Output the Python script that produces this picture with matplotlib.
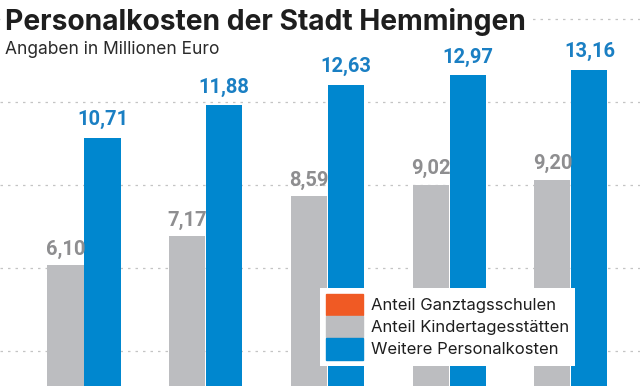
import matplotlib
matplotlib.use("Agg")
import matplotlib.pyplot as plt
from matplotlib.patches import Patch

# values in Mio. Euro, five years (axis cut off at the bottom)
kita = [6.10, 7.17, 8.59, 9.02, 9.20]
weitere = [10.71, 11.88, 12.63, 12.97, 13.16]
legend_labels = ["Anteil Ganztagsschulen", "Anteil Kindertagesstätten", "Weitere Personalkosten"]

c_orange = "#f05a24"
c_gray = "#bcbdc0"
c_blue = "#0087cf"

fig = plt.figure(figsize=(6.4, 3.86), dpi=100)
ax = fig.add_axes([0, 0, 1, 1])

x = list(range(len(kita)))
w = 0.296
bg = ax.bar([i - w / 2 - 0.004 for i in x], kita, width=w, color=c_gray, zorder=2)
bb = ax.bar([i + w / 2 + 0.004 for i in x], weitere, width=w, color=c_blue, zorder=2)

for rect, v in zip(bg, kita):
    ax.annotate(f"{v:.2f}".replace(".", ","), (rect.get_x() + rect.get_width() / 2, v),
                xytext=(0, 4.5), textcoords="offset points", ha="center", va="bottom",
                fontsize=14.5, fontweight="bold", family="Roboto", color="#8e8e90")
for rect, v in zip(bb, weitere):
    ax.annotate(f"{v:.2f}".replace(".", ","), (rect.get_x() + rect.get_width() / 2, v),
                xytext=(0, 6), textcoords="offset points", ha="center", va="bottom",
                fontsize=14.5, fontweight="bold", family="Roboto", color="#1a7fc3")

for g in [3, 6, 9, 12, 15]:
    ax.axhline(g, color="#c4c4c4", lw=0.9, ls=(0, (2, 4)), zorder=1)

ax.set_xlim(-0.69, 4.567)
ax.set_ylim(1.75, 15.68)
ax.axis("off")

fig.text(0.008, 0.978, "Personalkosten der Stadt Hemmingen", ha="left", va="top",
         fontsize=20.3, fontweight="bold", family="Inter", color="#1e1e1e",
         bbox=dict(facecolor="white", edgecolor="none", pad=3))
fig.text(0.008, 0.893, "Angaben in Millionen Euro", ha="left", va="top",
         fontsize=12.5, family="Inter", color="#2a2a2a")

handles = [Patch(color=c_orange), Patch(color=c_gray), Patch(color=c_blue)]
leg = fig.legend(handles, legend_labels, loc="upper left", bbox_to_anchor=(0.5, 0.254),
                 frameon=True, fancybox=False, framealpha=1, edgecolor="none",
                 prop={"family": "Inter", "size": 12}, handlelength=2.2, handleheight=1.6,
                 handletextpad=0.5, labelspacing=0.05, borderpad=0.35, borderaxespad=0)
for t in leg.get_texts():
    t.set_color("#1e1e1e")

fig.savefig("out.png", dpi=100)
